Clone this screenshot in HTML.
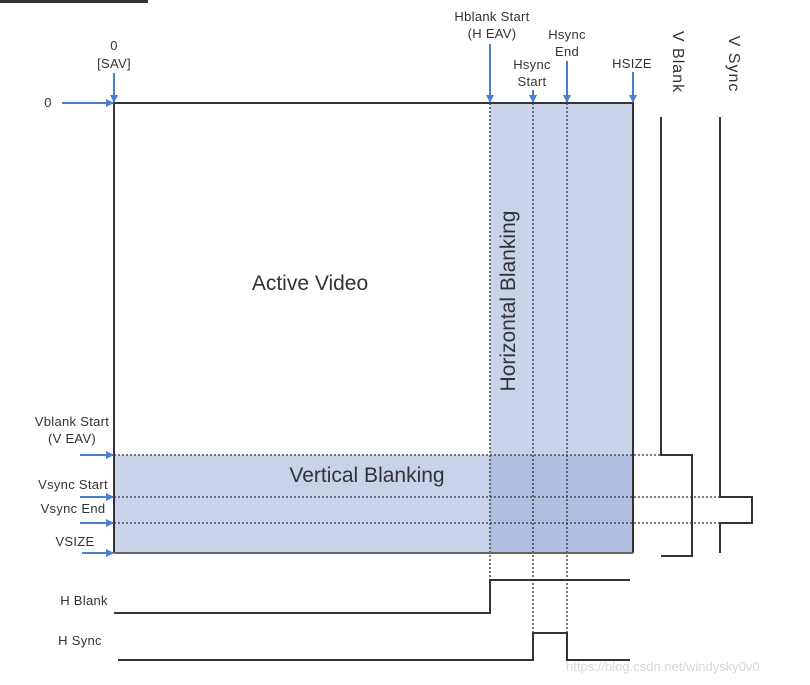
<!DOCTYPE html>
<html><head><meta charset="utf-8"><style>
html,body{margin:0;padding:0;background:#fff;width:810px;height:685px;overflow:hidden}
svg text{font-family:"Liberation Sans",Arial,sans-serif;fill:#333}
</style></head><body>
<svg width="810" height="685" viewBox="0 0 810 685" xmlns="http://www.w3.org/2000/svg">
<defs>
<marker id="ar" markerWidth="8" markerHeight="8" refX="7" refY="4" orient="auto" markerUnits="userSpaceOnUse">
<path d="M0,0 L8,4 L0,8 z" fill="#4a7fd0"/></marker>
</defs>
<rect x="0" y="0" width="148" height="3" fill="#333"/>
<rect x="490" y="103" width="143" height="450" fill="#c8d3ea"/>
<rect x="114" y="455" width="519" height="98" fill="#c8d3ea"/>
<rect x="490" y="455" width="143" height="98" fill="#aebfe2"/>
<g stroke="#333" stroke-width="1.3" stroke-dasharray="2,2" fill="none">
<line x1="114" y1="455" x2="661" y2="455"/>
<line x1="114" y1="497" x2="720" y2="497"/>
<line x1="114" y1="523" x2="720" y2="523"/>
<line x1="490" y1="103" x2="490" y2="583"/>
<line x1="533" y1="103" x2="533" y2="633"/>
<line x1="567" y1="103" x2="567" y2="660"/>
</g>
<g stroke="#333" stroke-width="2" fill="none">
<polyline points="114,553 114,103 633,103 633,553"/>
<line x1="114" y1="553" x2="633" y2="553" stroke="#666"/>
<polyline points="661,117 661,455 692,455 692,556 661,556"/>
<polyline points="720,117 720,497 752,497 752,523 720,523 720,553"/>
<polyline points="114,613 490,613 490,580 630,580"/>
<polyline points="118,660 533,660 533,633 567,633 567,660 630,660"/>
</g>
<g stroke="#4a7fd0" stroke-width="2" marker-end="url(#ar)">
<line x1="62" y1="103" x2="113" y2="103"/>
<line x1="80" y1="455" x2="113" y2="455"/>
<line x1="80" y1="497" x2="113" y2="497"/>
<line x1="80" y1="523" x2="113" y2="523"/>
<line x1="82" y1="553" x2="113" y2="553"/>
<line x1="114" y1="73" x2="114" y2="102"/>
<line x1="490" y1="44" x2="490" y2="102"/>
<line x1="533" y1="90" x2="533" y2="102"/>
<line x1="567" y1="61" x2="567" y2="102"/>
<line x1="633" y1="72" x2="633" y2="102"/>
</g>
<g font-size="13" text-anchor="middle" letter-spacing="0.3">
<text x="114" y="50">0</text><text x="114" y="68">[SAV]</text>
<text x="48" y="107">0</text>
<text x="492" y="21">Hblank Start</text><text x="492" y="38">(H EAV)</text>
<text x="532" y="69">Hsync</text><text x="532" y="86">Start</text>
<text x="567" y="39">Hsync</text><text x="567" y="56">End</text>
<text x="632" y="68">HSIZE</text>
<text x="72" y="426">Vblank Start</text><text x="72" y="443">(V EAV)</text>
<text x="73" y="489">Vsync Start</text>
<text x="73" y="513">Vsync End</text>
<text x="75" y="546">VSIZE</text>
<text x="84" y="605">H Blank</text>
<text x="80" y="645">H Sync</text>
</g>
<text x="673" y="62" font-size="16" letter-spacing="1" text-anchor="middle" transform="rotate(90 673 62)">V Blank</text>
<text x="729" y="64" font-size="16" letter-spacing="1" text-anchor="middle" transform="rotate(90 729 64)">V Sync</text>
<text x="310" y="290" font-size="21" text-anchor="middle">Active Video</text>
<text x="367" y="482" font-size="21" text-anchor="middle">Vertical Blanking</text>
<text x="515" y="301" font-size="21" text-anchor="middle" transform="rotate(-90 515 301)">Horizontal Blanking</text>
<text x="566" y="671" font-size="13" style="fill:#d8d8d8">https://blog.csdn.net/windysky0v0</text>
</svg>
</body></html>
